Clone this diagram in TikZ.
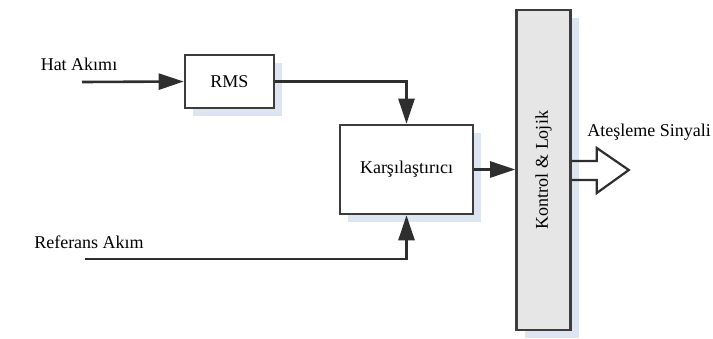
\documentclass[tikz,border=0pt]{standalone}
\usepackage{fontspec}
\setmainfont{Liberation Serif}
\usepackage{xcolor}
\usepackage{tikz}
\usetikzlibrary{calc,arrows.meta,shadows}
\definecolor{edge}{HTML}{3C3C3C}
\definecolor{wire}{HTML}{2E2E2E}
\definecolor{shade}{HTML}{DCE5F1}
\definecolor{panel}{HTML}{E6E6E6}
\tikzset{
  blok/.style={draw=edge, fill=white, line width=2.6pt, inner sep=0pt,
    font=\fontsize{18}{21}\selectfont,
    drop shadow={shadow xshift=8pt, shadow yshift=-8pt, fill=shade, opacity=1}},
  sig/.style={draw=wire, line width=2.6pt, -{Triangle[length=25pt,width=16pt]}},
  wirel/.style={draw=wire, line width=2.2pt},
  lab/.style={font=\fontsize{18}{21}\selectfont, inner sep=0pt},
}
\begin{document}
\begin{tikzpicture}[x=1pt,y=-1pt]
  \useasboundingbox (0,0) rectangle (713,338);
  % blocks
  \node[blok, minimum width=89pt, minimum height=53pt] (rms) at (229.5,81.5) {RMS};
  \node[blok, minimum width=133pt, minimum height=89pt] (karsi) at (406.5,169.5) {Karşılaştırıcı};
  \node[blok, fill=panel, rotate=90, minimum width=320pt, minimum height=54pt] (kontrol) at (543.5,170) {Kontrol \& Lojik};
  % inputs
  \node[lab, anchor=base] (hat) at (79,70) {Hat Akımı};
  \node[lab, anchor=base] (ref) at (89,248) {Referans Akım};
  \coordinate (hatin) at (82,82);
  \coordinate (refin) at (85,259);
  \draw[sig] (hatin) -- (rms.west);
  \draw[sig] (rms.east) -| (karsi.north);
  \draw[sig] (refin) -| (karsi.south);
  \draw[sig] (karsi.east) -- (karsi.east -| kontrol.north);
  % output
  \node[lab, anchor=base east] (ates) at (711,136) {Ateşleme Sinyali};
  \coordinate (out) at (kontrol.south);
  \draw[wirel, line join=miter] ($(out)+(0,-9)$) -- ($(out)+(25,-9)$) -- ($(out)+(25,-22)$)
    -- ($(out)+(57,0)$) -- ($(out)+(25,23)$) -- ($(out)+(25,10)$) -- ($(out)+(0,10)$);
\end{tikzpicture}
\end{document}
